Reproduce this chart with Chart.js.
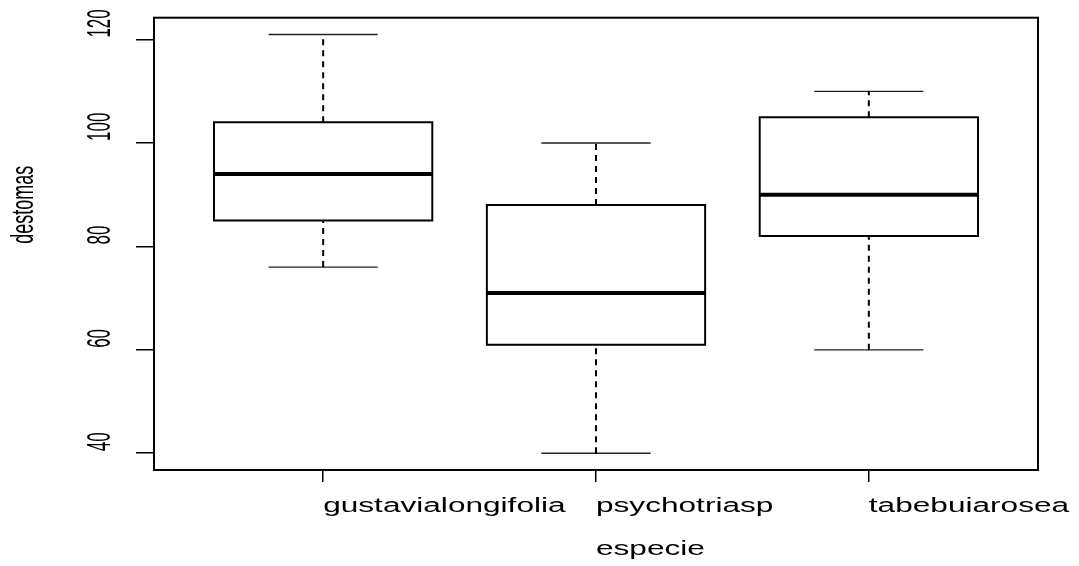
<!DOCTYPE html>
<html>
<head>
<meta charset="utf-8">
<script src="https://cdn.jsdelivr.net/npm/chart.js@4/dist/chart.umd.min.js"></script>
<style>
  html, body { margin: 0; padding: 0; background: #fff; }
  #wrap { width: 1079px; height: 566px; position: relative; }
</style>
</head>
<body>
<div id="wrap"><canvas id="chart-box"></canvas></div>
<script>
// ─── Data ────────────────────────────────────────────────────────────────────
const species = ['gustavialongifolia', 'psychotriasp', 'tabebuiarosea'];
const xPos = [1, 2, 3];
const lowWhisker = [76, 40, 60];
const q1 = [85, 61, 82];
const median = [94, 71, 90];
const q3 = [104, 88, 105];
const highWhisker = [121, 100, 110];
const yTicks = [40, 60, 80, 100, 120];
const yTitle = 'destomas';
const xTitle = 'especie';

const FONT = '"Liberation Sans", Arial, sans-serif';
const HALF_BOX = 0.4;
const HALF_CAP = 0.2;

// ─── Build line datasets for each box ────────────────────────────────────────
function seg(points, opts) {
  return Object.assign({
    data: points,
    showLine: true,
    borderColor: '#000',
    pointRadius: 0,
    pointHoverRadius: 0,
    tension: 0,
    fill: false,
  }, opts);
}

const datasets = [];
xPos.forEach((c, i) => {
  const dashed = { borderWidth: 2, borderDash: [6, 5] };
  datasets.push(seg([{ x: c, y: q3[i] }, { x: c, y: highWhisker[i] }], dashed));
  datasets.push(seg([{ x: c, y: lowWhisker[i] }, { x: c, y: q1[i] }], dashed));
  const cap = { borderWidth: 1.4, borderColor: '#222' };
  datasets.push(seg([{ x: c - HALF_CAP, y: highWhisker[i] }, { x: c + HALF_CAP, y: highWhisker[i] }], cap));
  datasets.push(seg([{ x: c - HALF_CAP, y: lowWhisker[i] }, { x: c + HALF_CAP, y: lowWhisker[i] }], cap));
  datasets.push(seg([
    { x: c - HALF_BOX, y: q1[i] }, { x: c + HALF_BOX, y: q1[i] },
    { x: c + HALF_BOX, y: q3[i] }, { x: c - HALF_BOX, y: q3[i] },
    { x: c - HALF_BOX, y: q1[i] },
  ], { borderWidth: 2, borderCapStyle: 'square', borderJoinStyle: 'miter' }));
  datasets.push(seg([{ x: c - HALF_BOX, y: median[i] }, { x: c + HALF_BOX, y: median[i] }], { borderWidth: 4 }));
});

// ─── Frame + text (R-style, text starts at its anchor, stretched wide) ───────
function drawText(ctx, s, x, y, rotated, size, k) {
  ctx.save();
  ctx.translate(x, y);
  if (rotated) {
    ctx.rotate(-Math.PI / 2);
    ctx.scale(1, k);
  } else {
    ctx.scale(k, 1);
  }
  ctx.font = `${size}px ${FONT}`;
  ctx.fillStyle = '#000';
  ctx.textAlign = 'left';
  ctx.textBaseline = 'alphabetic';
  ctx.fillText(s, 0, 0);
  ctx.restore();
}

const rDecor = {
  id: 'rDecor',
  afterDraw(chart) {
    const { ctx, chartArea: a, scales } = chart;
    ctx.save();
    ctx.strokeStyle = '#000';
    ctx.lineWidth = 2;
    ctx.strokeRect(a.left, a.top, a.right - a.left, a.bottom - a.top);
    ctx.restore();

    scales.x.ticks.forEach((t, i) => {
      drawText(ctx, species[i], scales.x.getPixelForValue(t.value), 512, false, 20, 1.58);
    });
    scales.y.ticks.forEach((t) => {
      drawText(ctx, String(t.value), 110, scales.y.getPixelForValue(t.value) - 2, true, 17, 1.95);
    });
    drawText(ctx, yTitle, 33, (a.top + a.bottom) / 2, true, 18, 1.75);
    drawText(ctx, xTitle, (a.left + a.right) / 2, 555, false, 20, 1.58);
  },
};

new Chart(document.getElementById('chart-box'), {
  type: 'scatter',
  data: { datasets },
  plugins: [rDecor],
  options: {
    responsive: true,
    maintainAspectRatio: false,
    animation: false,
    events: [],
    layout: { padding: { left: 136, top: 17.7, right: 41, bottom: 84 } },
    plugins: { legend: { display: false }, tooltip: { enabled: false } },
    scales: {
      x: {
        type: 'linear',
        min: 0.38,
        max: 3.62,
        afterBuildTicks: (scale) => { scale.ticks = xPos.map((v) => ({ value: v })); },
        ticks: { display: false },
        grid: { drawOnChartArea: false, drawTicks: true, tickLength: 12, color: '#000', lineWidth: 1.5 },
        border: { display: false },
      },
      y: {
        type: 'linear',
        min: 36.76,
        max: 124.24,
        afterBuildTicks: (scale) => { scale.ticks = yTicks.map((v) => ({ value: v })); },
        ticks: { display: false },
        grid: { drawOnChartArea: false, drawTicks: true, tickLength: 18, color: '#000', lineWidth: 1.5 },
        border: { display: false },
      },
    },
  },
});
</script>
</body>
</html>
